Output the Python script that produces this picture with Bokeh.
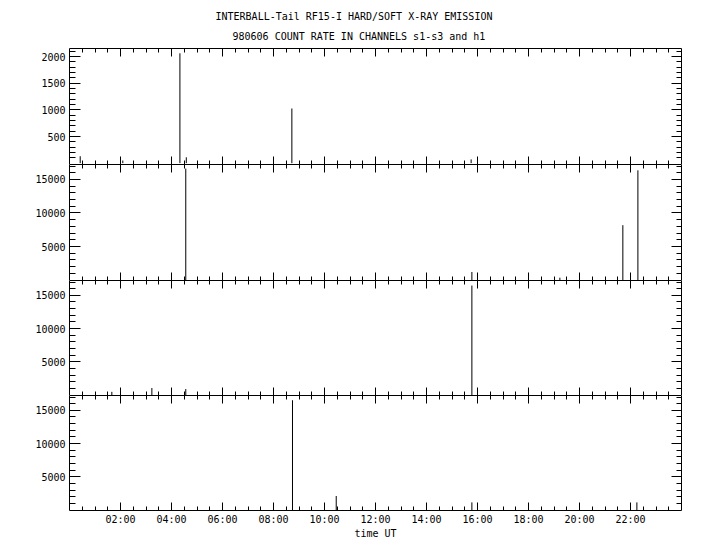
from bokeh.plotting import figure
from bokeh.layouts import column
from bokeh.models import LinearAxis, FixedTicker, Range1d, Title, ColumnDataSource
from bokeh.embed import file_html
from bokeh.resources import INLINE

# ---------------- data ----------------
title_main = "INTERBALL-Tail RF15-I HARD/SOFT X-RAY EMISSION"
title_sub = "980606  COUNT RATE IN CHANNELS s1-s3 and h1"
x_label = "time UT"

hour_ticks = [2, 4, 6, 8, 10, 12, 14, 16, 18, 20, 22]
hour_labels = ["02:00", "04:00", "06:00", "08:00", "10:00", "12:00",
               "14:00", "16:00", "18:00", "20:00", "22:00"]
hour_minor = [0.5 * i for i in range(1, 48)]

# panel 1 (channel s1)
t1 = [0.42, 2.09, 4.33, 4.58, 8.72, 15.75]
c1 = [130, 50, 2060, 110, 1025, 70]
# panel 2 (channel s2)
t2 = [4.56, 15.78, 19.23, 21.70, 22.29]
c2 = [16620, 1200, 350, 8180, 16360]
# panel 3 (channel s3)
t3 = [1.66, 3.23, 4.56, 15.78]
c3 = [480, 1050, 900, 16470]
# panel 4 (channel h1)
t4 = [8.745, 10.46, 15.78, 22.25]
c4 = [16520, 2110, 1150, 1150]

y1_ticks = [500, 1000, 1500, 2000]
y1_minor = list(range(100, 2200, 100))
y1_range = (-25, 2150)
yb_ticks = [5000, 10000, 15000]
yb_minor = list(range(1000, 18000, 1000))
yb_range = (-70, 17230)

FONT = "DejaVu Sans Mono"
FS = "10px"

panels = [
    (t1, c1, y1_range, y1_ticks, y1_minor, 116),
    (t2, c2, yb_range, yb_ticks, yb_minor, 116),
    (t3, c3, yb_range, yb_ticks, yb_minor, 115),
    (t4, c4, yb_range, yb_ticks, yb_minor, 115),
]

FRAME_W = 612
LEFT = 69
RIGHT = 23
TOP = 48
BOTTOM = 30

figs = []
for i, (t, c, yr, yt, ym, fh) in enumerate(panels):
    first = i == 0
    last = i == len(panels) - 1
    p = figure(frame_width=FRAME_W, frame_height=fh,
               x_range=Range1d(0, 24), y_range=Range1d(*yr),
               output_backend="svg", toolbar_location=None,
               x_axis_location=None, y_axis_location=None,
               min_border_left=LEFT, min_border_right=RIGHT,
               min_border_top=TOP if first else 0,
               min_border_bottom=BOTTOM if last else 0)
    p.outline_line_color = None
    p.background_fill_color = "white"
    p.border_fill_color = "white"
    p.xgrid.visible = False
    p.ygrid.visible = False

    xt = FixedTicker(ticks=hour_ticks, minor_ticks=hour_minor)
    ytk = FixedTicker(ticks=yt, minor_ticks=ym)

    def style(ax, tin, mtin, show_labels, line=True):
        ax.major_tick_in = tin
        ax.major_tick_out = 0
        ax.minor_tick_in = mtin
        ax.minor_tick_out = 0
        ax.major_tick_line_color = "black"
        ax.minor_tick_line_color = "black"
        ax.axis_line_color = "black" if line else None
        ax.major_label_text_font = FONT
        if show_labels:
            ax.major_label_text_font_size = FS
            ax.major_label_text_color = "black"
            ax.major_label_standoff = 4
        else:
            ax.major_label_text_font_size = "1px"
            ax.major_label_text_color = None
            ax.major_label_standoff = 0

    # bottom axis
    xb = LinearAxis(ticker=xt)
    style(xb, 8, 4, last, line=last)
    if last:
        xb.major_label_overrides = dict(zip(hour_ticks, hour_labels))
        xb.major_label_standoff = 3
        xb.axis_label = x_label
        xb.axis_label_text_font = FONT
        xb.axis_label_text_font_size = FS
        xb.axis_label_text_font_style = "normal"
        xb.axis_label_text_color = "black"
        xb.axis_label_standoff = 0
    p.add_layout(xb, "below")

    # top axis (its line is the separator with the panel above)
    xa = LinearAxis(ticker=xt)
    style(xa, 8, 4, False, line=True)
    p.add_layout(xa, "above")

    # left axis
    yl = LinearAxis(ticker=ytk)
    style(yl, 11, 6, True)
    p.add_layout(yl, "left")

    # right axis
    yrax = LinearAxis(ticker=ytk)
    style(yrax, 10, 5, False)
    p.add_layout(yrax, "right")

    if first:
        p.add_layout(Title(text=title_sub, align="left", offset=163,
                           text_font=FONT, text_font_size=FS,
                           text_font_style="normal", text_color="black",
                           vertical_align="middle", standoff=12), "above")
        p.add_layout(Title(text=title_main, align="left", offset=146,
                           text_font=FONT, text_font_size=FS,
                           text_font_style="normal", text_color="black",
                           vertical_align="middle", standoff=2), "above")

    src = ColumnDataSource(dict(t=t, c=c))
    p.segment(x0="t", y0=0, x1="t", y1="c", source=src,
              line_color="black", line_width=1)
    figs.append(p)

layout = column(*figs, spacing=0)
open("out.html", "w").write(file_html(layout, INLINE))
